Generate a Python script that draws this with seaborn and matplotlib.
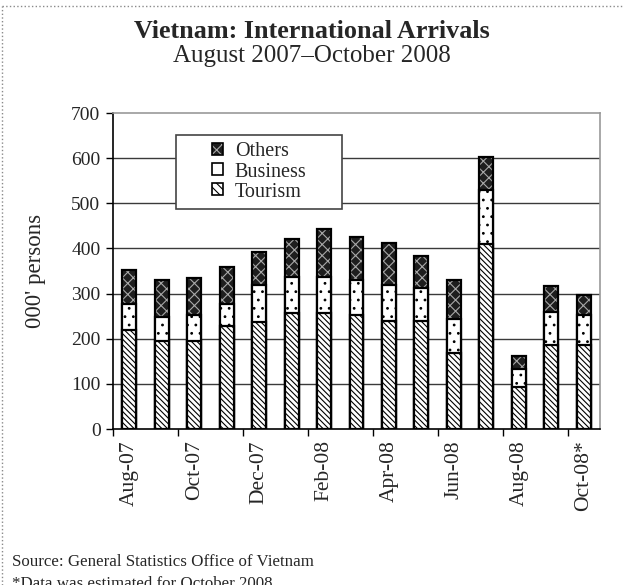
import numpy as np
import pandas as pd
import matplotlib
matplotlib.use("Agg")
import matplotlib.pyplot as plt
import seaborn as sns
from matplotlib.patches import Patch, Rectangle
from matplotlib.legend_handler import HandlerTuple
from matplotlib.lines import Line2D

# Monthly international arrivals to Vietnam, thousands of persons
months = ["Aug-07", "Sep-07", "Oct-07", "Nov-07", "Dec-07", "Jan-08", "Feb-08",
          "Mar-08", "Apr-08", "May-08", "Jun-08", "Jul-08", "Aug-08", "Sep-08",
          "Oct-08*"]
tourism = [220, 194, 194, 229, 237, 257, 257, 253, 240, 240, 169, 410, 93, 187, 187]
business = [57, 54, 58, 48, 81, 79, 79, 78, 78, 73, 74, 120, 39, 73, 66]
others = [76, 82, 82, 82, 74, 85, 106, 94, 94, 70, 86, 73, 30, 56, 44]
y_ticks = [0, 100, 200, 300, 400, 500, 600, 700]
shown_months = months[::2]

sns.set_theme(style="white")
plt.rcParams["font.family"] = ["Liberation Serif", "DejaVu Serif"]
plt.rcParams["hatch.linewidth"] = 0.8

df = pd.DataFrame({"month": months, "tourism": tourism,
                   "business": business, "others": others})
df["tour_bus"] = df["tourism"] + df["business"]
df["total"] = df["tour_bus"] + df["others"]

W, H = 623, 585
fig = plt.figure(figsize=(W / 100, H / 100), dpi=100)
ax = fig.add_axes([113 / W, 1 - 429 / H, 487 / W, 316 / H])

BAR_W = 0.43
TOUR_HATCH = "\\" * 6
OTHERS_FACE, OTHERS_HATCH_COLOR, OTHERS_HATCH = "#1e1e1e", "#a8a8a8", "xxx"


def stacked_layer(col, face, hatch, hatch_color, z):
    # filled, hatched bars (hatch takes the edge colour) ...
    n0 = len(ax.patches)
    sns.barplot(data=df, x="month", y=col, order=months, color=face,
                saturation=1, width=BAR_W, errorbar=None, ax=ax)
    for p in ax.patches[n0:]:
        p.set_facecolor(face)
        p.set_hatch(hatch)
        p.set_edgecolor(hatch_color)
        p.set_linewidth(0)
        p.set_zorder(z)
    # ... then a black outline on top
    n1 = len(ax.patches)
    sns.barplot(data=df, x="month", y=col, order=months, color="black",
                fill=False, width=BAR_W, errorbar=None, ax=ax)
    for p in ax.patches[n1:]:
        p.set_facecolor("none")
        p.set_hatch(None)
        p.set_edgecolor("black")
        p.set_linewidth(1.6)
        p.set_zorder(z + 0.5)


stacked_layer("total", OTHERS_FACE, OTHERS_HATCH, OTHERS_HATCH_COLOR, 3)
stacked_layer("tour_bus", "white", "..", "black", 4)
stacked_layer("tourism", "white", TOUR_HATCH, "black", 5)

# axes styling
ax.set_xlim(-0.5, len(months) - 0.5)
ax.set_ylim(0, 700)
ax.set_yticks(y_ticks)
ax.set_yticklabels([str(v) for v in y_ticks], fontsize=14)
ax.set_xticks(np.arange(-0.5, len(months) - 1, 2))
ax.set_xticklabels([])
ax.set_xticks(np.arange(0, len(months), 2), minor=True)
ax.set_xticklabels(shown_months, minor=True, rotation=90, fontsize=15.5)
ax.tick_params(axis="x", which="major", direction="out", length=5, width=1,
               color="black", bottom=True)
ax.tick_params(axis="x", which="minor", length=0, pad=8)
ax.tick_params(axis="y", direction="out", length=5, width=1, color="black",
               left=True, pad=4)
ax.set_xlabel("")
ax.set_ylabel("000' persons", fontsize=16.5)
ax.yaxis.set_label_coords((46 - 113) / 487, 0.5)

for v in y_ticks[1:-1]:
    ax.axhline(v, color="#3a3a3a", lw=1, zorder=1)

for side in ("left", "bottom"):
    ax.spines[side].set_color("black")
    ax.spines[side].set_linewidth(1.2)
for side in ("top", "right"):
    ax.spines[side].set_color("#999999")
    ax.spines[side].set_linewidth(1.2)
ax.set_facecolor("white")

# legend inside its own box
box = Rectangle((176 / W, 1 - 209 / H), 166 / W, 74 / H, transform=fig.transFigure,
                facecolor="white", edgecolor="#444444", lw=1.2, zorder=10)
fig.patches.append(box)

h_others = (Patch(facecolor=OTHERS_FACE, edgecolor=OTHERS_HATCH_COLOR,
                  hatch=OTHERS_HATCH, lw=0),
            Patch(facecolor="none", edgecolor="black", lw=1.2))
h_business = Patch(facecolor="white", edgecolor="black", lw=1.2)
h_tourism = Patch(facecolor="white", edgecolor="black", hatch="\\" * 4, lw=1.2)
leg = fig.legend([h_others, h_business, h_tourism], ["Others", "Business", "Tourism"],
                 loc="center", bbox_to_anchor=(259 / W, 1 - 172 / H),
                 frameon=False, fontsize=14.5, handlelength=0.55, handleheight=0.55,
                 handletextpad=0.6, labelspacing=0.05, borderpad=0,
                 handler_map={tuple: HandlerTuple(ndivide=1, pad=0)})
leg.set_zorder(11)

# titles and notes
fig.text(0.5, 1 - 31 / H, "Vietnam: International Arrivals", ha="center", va="center",
         fontsize=18.8, fontweight="bold")
fig.text(0.5, 1 - 56 / H, "August 2007\u2013October 2008", ha="center", va="center",
         fontsize=18)
fig.text(12 / W, 1 - 562 / H, "Source: General Statistics Office of Vietnam",
         ha="left", va="center", fontsize=12.2)
fig.text(12 / W, 1 - 576 / H, "*Data was estimated for October 2008",
         ha="left", va="top", fontsize=12.2)

# dotted page border
fig.add_artist(Line2D([2 / W, 1], [1 - 6 / H, 1 - 6 / H], transform=fig.transFigure,
                      color="#8a8a8a", lw=1, ls=":"))
fig.add_artist(Line2D([2 / W, 2 / W], [0, 1 - 6 / H], transform=fig.transFigure,
                      color="#8a8a8a", lw=1, ls=":"))

fig.savefig("out.png", dpi=100, facecolor="white")
